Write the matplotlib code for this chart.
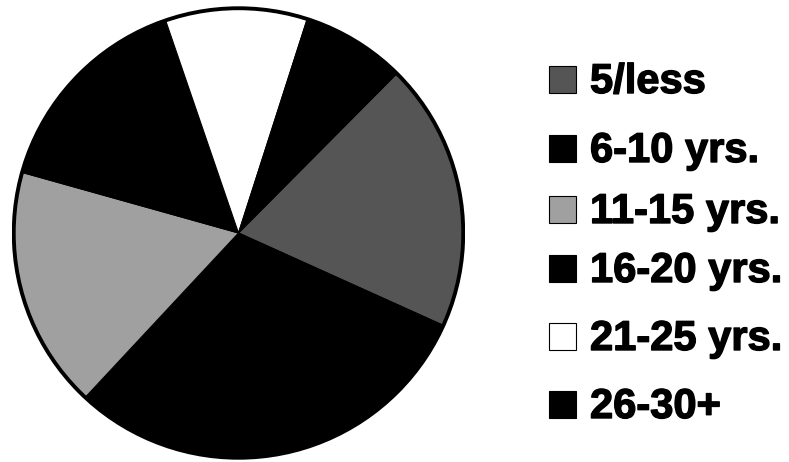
import matplotlib
matplotlib.use("Agg")
import matplotlib.pyplot as plt
from matplotlib.patches import Rectangle, Circle
import matplotlib.patheffects as pe

labels = ["5/less", "6-10 yrs.", "11-15 yrs.", "16-20 yrs.", "21-25 yrs.", "26-30+"]
values = [19.3, 30.2, 17.4, 15.4, 10.2, 7.5]
colors = ["#555555", "#000000", "#a0a0a0", "#000000", "#ffffff", "#000000"]

W, H = 789, 462
fig = plt.figure(figsize=(W / 100, H / 100), dpi=100)
fig.patch.set_facecolor("white")

cx, cy, r = 238.5, 233, 227
ax = fig.add_axes([(cx - r) / W, (H - cy - r) / H, 2 * r / W, 2 * r / H])
ax.pie(values, colors=colors, startangle=45.2, counterclock=False,
       wedgeprops=dict(edgecolor="black", linewidth=0.8), radius=1.0)
ax.add_patch(Circle((0, 0), 1.0, fill=False, edgecolor="black", linewidth=2.8))
ax.set_xlim(-1.01, 1.01)
ax.set_ylim(-1.01, 1.01)
ax.set_aspect("equal")
ax.axis("off")

baselines = [93, 162, 223, 282, 350, 418]
for lab, col, b in zip(labels, colors, baselines):
    fig.patches.append(Rectangle((549 / W, (H - b) / H), 27 / W, 27 / H,
                                 transform=fig.transFigure, facecolor=col,
                                 edgecolor="black", linewidth=0.8))
    fig.text(590 / W, (H - b) / H, lab, fontsize=30, fontweight="bold",
             family=["Liberation Sans", "DejaVu Sans"], va="baseline", ha="left",
             path_effects=[pe.withStroke(linewidth=1.0, foreground="black")])

fig.savefig("out.png", dpi=100, facecolor="white")
